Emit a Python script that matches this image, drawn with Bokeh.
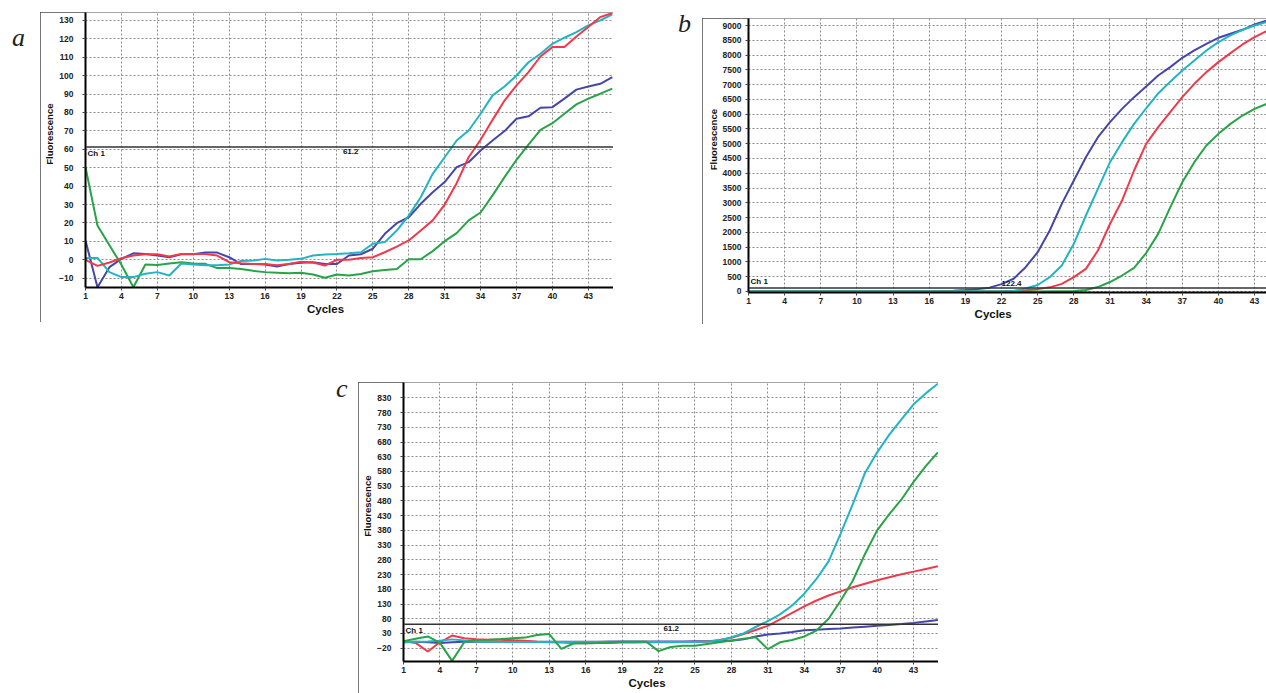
from bokeh.plotting import figure
from bokeh.layouts import row, column
from bokeh.models import Div, Span, Label, Spacer
from bokeh.embed import file_html
from bokeh.resources import INLINE

# ---------------- data ----------------
cycles = list(range(1, 46))
cycles_b = list(range(1, 45))
x_ticks = list(range(1, 46, 3))

a_yticks = list(range(-10, 131, 10))
b_yticks = list(range(0, 9001, 500))
c_yticks = list(range(-20, 831, 50))

a_threshold = 61.2
b_threshold = 122.4
c_threshold = 61.2

x_title = "Cycles"
y_title = "Fluorescence"

# panel a
a_blue = [10.5, -14.9, -4, 0.5, 3.5, 3.2, 2.3, 1.4, 3, 3, 3.9, 3.9, 1.4, -2.3, -2.3,
          -2.5, -3.6, -2.3, -1.6, -1.3, -2.3, -2.3, 2.3, 3, 6, 14.1, 19.9, 23.1, 30.4, 36.7,
          42.2, 50.3, 53, 59.4, 64.8, 69.9, 76.6, 77.9, 82.6, 82.9, 87.5, 92.4, 94.1, 95.6, 99.2]
a_red = [0, -3.3, -1.5, 0.8, 2.3, 3, 3, 1.8, 3.2, 3.2, 3.2, 2.3, -1.3, -1.9, -2.3,
         -2.3, -3, -2.3, -1, -1.5, -3.1, 0, 0, 1, 1.4, 4.1, 7.2, 10.5, 15.9, 21.4,
         30, 41.6, 55.7, 65.2, 76, 86.5, 94.7, 101.9, 110.4, 115.5, 115.5, 121.3, 126.4, 131.8, 134]
a_cyan = [1, 1, -6.7, -9.4, -9.4, -7.6, -6.7, -8.5, -2, -2.5, -3, -3, -2.5, -0.7, -0.4,
          0.5, -0.4, 0, 0.5, 2.3, 2.9, 3.2, 3.6, 4.1, 8.7, 9.6, 15.9, 24, 34, 46.7,
          55.7, 64.8, 70.2, 79.3, 89.3, 94.1, 100.1, 107.3, 111.9, 117.3, 120.6, 123.6, 127.3, 130, 133.3]
a_green = [50.3, 18.6, 7.9, -2.7, -14.9, -2.6, -2.8, -2, -1.3, -2, -2.2, -4.5, -4.5, -5, -6,
           -6.7, -7, -7.3, -7, -8, -9.8, -8, -8.5, -7.7, -6.2, -5.5, -5, 0.3, 0.3, 4.7,
           10.1, 14.5, 21.4, 25.7, 35, 44.9, 54.3, 62.6, 70.6, 74.2, 79.3, 84.4, 87.5, 90.2, 93]

# panel b (cycles 1..44 visible)
b_blue = [0, 0, 0, 0, 0, 0, 0, 0, 0, 0, 0, 0, 0, 0, 5,
          10, 15, 25, 50, 80, 130, 250, 430, 823, 1330, 2064, 2966, 3755, 4545, 5222,
          5729, 6180, 6576, 6937, 7309, 7591, 7907, 8155, 8381, 8584, 8720, 8855, 9035, 9170]
b_red = [0, 0, 0, 0, 0, 0, 0, 0, 0, 0, 0, 0, 0, 0, 0,
         0, 0, 0, 0, 0, 0, 5, 20, 40, 80, 140, 258, 485, 767, 1387,
         2285, 3078, 4094, 4996, 5560, 6068, 6576, 7027, 7422, 7761, 8065, 8358, 8606, 8809]
b_cyan = [0, 0, 0, 0, 0, 0, 0, 0, 0, 0, 0, 0, 0, 0, 0,
          0, 0, 0, 0, 0, 0, 5, 20, 100, 220, 485, 880, 1612, 2571, 3473,
          4376, 5053, 5673, 6200, 6700, 7100, 7480, 7817, 8155, 8437, 8663, 8855, 9001, 9114]
b_green = [0, 0, 0, 0, 0, 0, 0, 0, 0, 0, 0, 0, 0, 0, 0,
           0, 0, 0, 0, 0, 0, 0, 0, 0, 0, 5, 10, 20, 50, 150,
           320, 541, 800, 1300, 1950, 2848, 3696, 4376, 4939, 5334, 5672, 5954, 6180, 6349]

# panel c
c_blue = [0, 2, 0, -2, 0, 2, 2, 2, 2, 2, 2, 2, 2, 2, 2,
          2, 2, 3, 3, 3, 3, 3, 3, 3, 4, 4, 4, 5, 10, 20,
          26.5, 30, 35, 41, 43, 45, 47, 50, 53, 56, 59, 62, 66, 71, 76]
c_red = [4, -2, -31, 0, 23, 14, 10.6, 9, 9, 7, 5, 2, 0, -1, -2,
         -3, -2, -2, -1, -1, 0, 0, 0, 1, 1, 3, 8, 15, 28, 42,
         56, 78, 100, 122, 142, 159, 173, 187, 199, 211, 221, 231, 240, 249, 258]
c_cyan = [0, 2, 3, 5, 10, 6, 3, 2, 1, 1, 1, 1, 1, 1, 1,
          1, 1, 1, 1, 1, 1, 1, 1, 1, 1, 3, 6, 17, 30, 52,
          72, 95, 125, 165, 215, 275, 370, 470, 575, 645, 705, 757, 808, 845, 878]
c_green = [4, 12, 20, -2, -63, 0, 8, 9, 11, 14, 16, 25, 28, -22, -4,
           -3, -2, 0, 2, 2, 2, -30, -16, -12, -12, -6, 0, 6, 12, 17,
           -23, 0, 8, 20, 40, 80, 142, 210, 300, 380, 435, 485, 545, 598, 645]

BLUE = "#4646aa"
RED = "#ef3a4c"
CYAN = "#22b4c0"
GREEN = "#27a447"
NBSP = "\u00a0"


def make_panel(w, h, xr, yr, yticks, left, bottom, ylab_standoff, x_pad, y_pad):
    p = figure(width=w, height=h, x_range=xr, y_range=yr,
               output_backend="svg", toolbar_location=None,
               min_border_left=left, min_border_right=0,
               min_border_top=0, min_border_bottom=bottom,
               background_fill_color="white", border_fill_color="white")
    p.outline_line_color = None
    p.xaxis.ticker = x_ticks
    p.yaxis.ticker = yticks
    # the original software draws its axis titles off-centre
    p.xaxis.axis_label = x_title + NBSP * x_pad
    p.yaxis.axis_label = NBSP * y_pad + y_title
    for ax in (p.xaxis[0], p.yaxis[0]):
        ax.axis_line_color = "black"
        ax.axis_line_width = 2
        ax.major_tick_line_color = "#444444"
        ax.major_tick_in = 0
        ax.major_tick_out = 3
        ax.minor_tick_line_color = None
        ax.major_label_text_font = "Liberation Sans"
        ax.major_label_text_font_size = "8.5px"
        ax.major_label_text_font_style = "bold"
        ax.major_label_text_color = "#222222"
        ax.axis_label_text_font = "Liberation Sans"
        ax.axis_label_text_font_style = "bold"
        ax.axis_label_text_color = "#111111"
    p.xaxis.major_label_standoff = 2
    p.xaxis.axis_label_text_font_size = "11.5px"
    p.xaxis.axis_label_standoff = 1
    p.yaxis.major_label_standoff = ylab_standoff
    p.yaxis.axis_label_text_font_size = "9.5px"
    p.yaxis.axis_label_standoff = 1
    for g in (p.xgrid[0], p.ygrid[0]):
        g.grid_line_color = "#8c8c8c"
        g.grid_line_dash = "2 2"
        g.grid_line_width = 1
    p.styles = {"outline": "1px solid #4a4a4a", "outline-offset": "-1px"}
    return p


def add_threshold(p, level, label_x, above):
    p.add_layout(Span(location=level, dimension="width", line_color="#333333", line_width=1.5))
    base = "bottom" if above else "top"
    off = 2 if above else -2
    p.add_layout(Label(x=1, y=level, text="Ch 1", x_offset=2, y_offset=off,
                       text_baseline=base, text_font="Liberation Sans",
                       text_font_size="8px", text_font_style="bold", text_color="#111111"))
    p.add_layout(Label(x=label_x, y=level, text=f"{level}", y_offset=off,
                       text_baseline=base, text_font="Liberation Sans",
                       text_font_size="8px", text_font_style="bold", text_color="#111111"))


# ---------------- panel a ----------------
pa = make_panel(573, 310, (1, 45.1), (-15.05, 134.3), a_yticks, 45, 35, 9, 15, 12)
add_threshold(pa, a_threshold, 22.5, False)
for ys, col in ((a_blue, BLUE), (a_green, GREEN), (a_cyan, CYAN), (a_red, RED)):
    pa.line(cycles, ys, line_color=col, line_width=2)

# ---------------- panel b ----------------
pb = make_panel(564, 306, (1, 43.99), (-34, 9237), b_yticks, 46, 32, 4, 9, 12)
add_threshold(pb, b_threshold, 22.0, True)
for ys, col in ((b_blue, BLUE), (b_red, RED), (b_green, GREEN), (b_cyan, CYAN)):
    pb.line(cycles_b, ys, line_color=col, line_width=2)

# ---------------- panel c ----------------
pc = make_panel(580, 311, (1, 45.05), (-65.1, 882), c_yticks, 45, 32, 9, 15, 12)
add_threshold(pc, c_threshold, 22.4, False)
for ys, col in ((c_blue, BLUE), (c_red, RED), (c_cyan, CYAN), (c_green, GREEN)):
    pc.line(cycles, ys, line_color=col, line_width=2)


def letter(t, w):
    return Div(text=("<span style=\"font-family:'Liberation Serif',serif;font-style:italic;"
                     "font-size:26px;line-height:26px;color:#222\">" + t + "</span>"),
               width=w, height=30, margin=0)


top = row(
    Spacer(width=12, height=1, margin=0),
    column(Spacer(height=25, width=1, margin=0), letter("a", 28)),
    column(Spacer(height=12, width=1, margin=0), pa),
    Spacer(width=65, height=1, margin=0),
    column(Spacer(height=11, width=1, margin=0), letter("b", 24)),
    column(Spacer(height=18, width=1, margin=0), pb),
)
bottom = row(
    Spacer(width=336, height=1, margin=0),
    column(Spacer(height=52, width=1, margin=0), letter("c", 22)),
    column(Spacer(height=58, width=1, margin=0), pc),
)
layout = column(top, bottom)

open("out.html", "w").write(file_html(layout, INLINE, title="qPCR curves"))
